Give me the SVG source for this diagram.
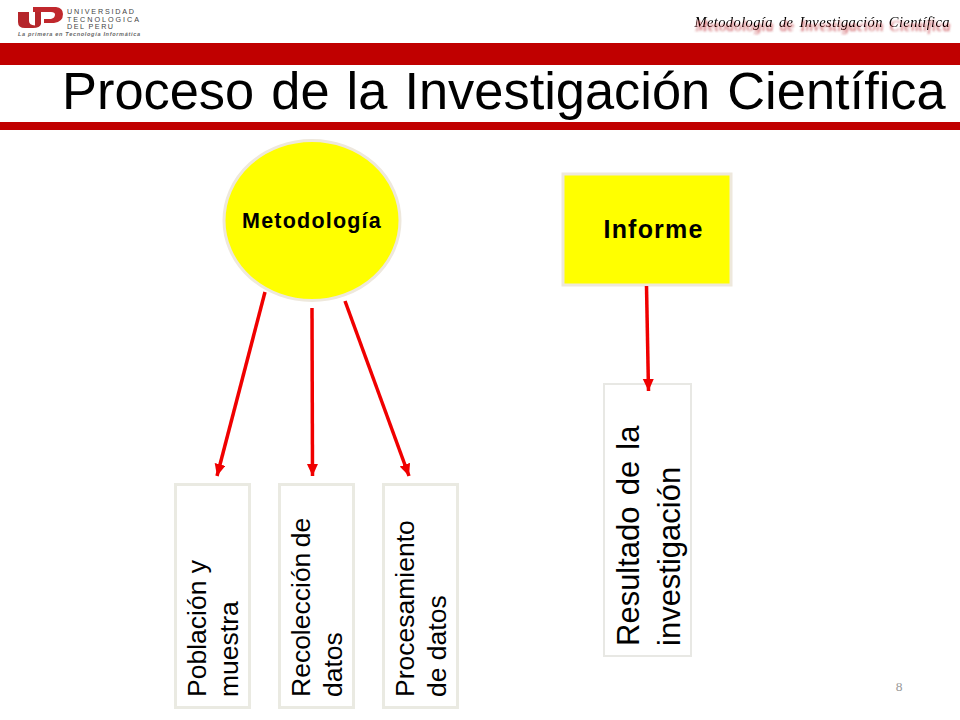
<svg xmlns="http://www.w3.org/2000/svg" width="960" height="720" viewBox="0 0 960 720">
<defs>
<style>
text{font-family:"Liberation Sans",Arial,sans-serif;fill:#000}
.band{fill:#c00000}
.box{fill:#fff;stroke:#eaeae2;stroke-width:3}
.yel{fill:#ff0;stroke:#eee8dc;stroke-width:3}
.lab{font-size:26.500px}
.b{font-weight:bold}
.conn{fill:none;stroke:#f00000;stroke-width:3.500;marker-end:url(#ah)}
.lg{font-size:7.200px;fill:#444}
</style>
<marker id="ah" markerUnits="userSpaceOnUse" markerWidth="13" markerHeight="12" refX="12" refY="5.500" orient="auto"><path d="M0 0L12 5.500L0 11Z" fill="#f00000"/></marker>
<filter id="sh" x="-5%" y="-50%" width="110%" height="220%"><feDropShadow dx="1" dy="4" stdDeviation="1.300" flood-color="#c03038" flood-opacity=".9"/></filter>
</defs>
<rect width="960" height="720" fill="#fff"/>
<g id="logo">
<path d="M18 12H29V21Q29 25 35 25.500V12H41V24Q40 28 33 28H25Q18 28 18 22Z" fill="#b5262b"/>
<path d="M33 7H56Q63 8 63 14Q63 22 54 23H44V19H51Q55 18 55 14.500Q55 12 51 12H33Z" fill="#c0282d"/>
<text class="lg" x="67" y="14" textLength="67" lengthAdjust="spacing">UNIVERSIDAD</text>
<text class="lg" x="67" y="21.500" textLength="72" lengthAdjust="spacing">TECNOLOGICA</text>
<text class="lg" x="67" y="29" textLength="46" lengthAdjust="spacing">DEL PERU</text>
<text x="18" y="35.500" font-size="5.500" font-style="italic" font-weight="bold" textLength="122" lengthAdjust="spacing" style="fill:#666">La primera en Tecnología Informática</text>
</g>
<text id="header" x="950" y="27" text-anchor="end" font-size="14.500" font-style="italic" filter="url(#sh)" style="font-family:'Liberation Serif',serif;letter-spacing:.4px;word-spacing:2px">Metodología de Investigación Científica</text>
<rect class="band" x="0" y="43" width="960" height="22"/>
<rect class="band" x="0" y="122" width="960" height="8"/>
<text id="title" x="62" y="109" font-size="52.400" style="word-spacing:2.500px">Proceso de la Investigación Científica</text>
<g id="metodologia"><ellipse class="yel" cx="312" cy="220.500" rx="88" ry="80"/><text class="b" x="312" y="228" font-size="21.500" text-anchor="middle" style="letter-spacing:1.200px">Metodología</text></g>
<g id="informe"><rect class="yel" x="563" y="174" width="168" height="111"/><text class="b" x="603.500" y="238" font-size="25" style="letter-spacing:1.200px">Informe</text></g>
<g id="poblacion"><rect class="box" x="175.500" y="484.500" width="74" height="223"/><text class="lab" transform="translate(206 697) rotate(-90)">Población y<tspan x="0" y="32">muestra</tspan></text></g>
<g id="recoleccion"><rect class="box" x="279.500" y="484.500" width="74" height="223"/><text class="lab" transform="translate(310 697) rotate(-90)"><tspan style="word-spacing:-2px">Recolección de</tspan><tspan x="0" y="32">datos</tspan></text></g>
<g id="procesamiento"><rect class="box" x="383.500" y="484.500" width="74" height="223"/><text class="lab" transform="translate(414 697) rotate(-90)">Procesamiento<tspan x="0" y="32">de datos</tspan></text></g>
<g id="resultado"><rect x="604" y="384" width="87" height="272" fill="#fff" stroke="#e8e8e4" stroke-width="2"/><text transform="translate(639 646) rotate(-90)" font-size="31" style="word-spacing:2.500px">Resultado de la<tspan x="0" y="41">investigación</tspan></text></g>
<g id="connectors">
<path class="conn" d="M265 292L217 476"/>
<path class="conn" d="M312 308L312.500 476"/>
<path class="conn" d="M345 301L409 476"/>
<path class="conn" d="M646.500 286L648.500 391"/>
</g>
<text id="page" x="899" y="691" font-size="13.500" text-anchor="middle" style="font-family:'Liberation Serif',serif;fill:#999">8</text>
</svg>
